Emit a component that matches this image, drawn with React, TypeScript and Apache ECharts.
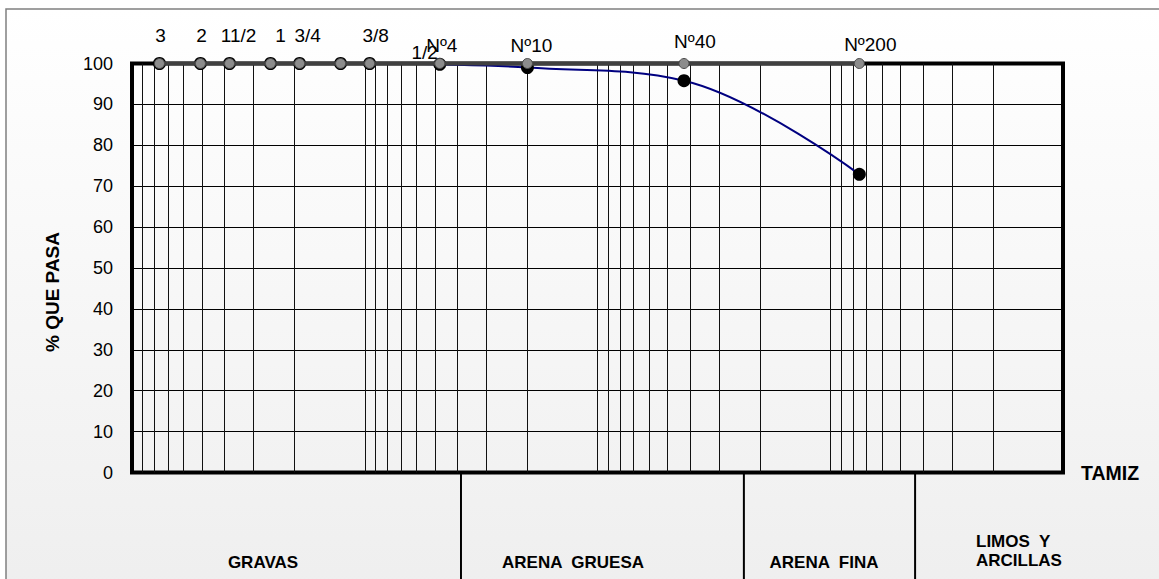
import React, { useEffect, useRef } from "react";
import * as echarts from "echarts";

// ---- data ----
const sieveNames = ["3", "2", "11/2", "1", "3/4", "1/2", "3/8", "Nº4", "Nº10", "Nº40", "Nº200"];
const sieveSizesMm = [76.2, 50.8, 38.1, 25.4, 19.05, 12.7, 9.525, 4.76, 2.0, 0.425, 0.075];
const limitPassing = [100, 100, 100, 100, 100, 100, 100, 100, 100, 100, 100];
const samplePassing = [100, 100, 100, 100, 100, 100, 100, 99.8, 99.0, 95.8, 72.9];
const labelOffsets = [
  [1, -8], [1, -8], [9, -8], [10, -8], [8, -8], [84, 9], [6, -8], [2, 2], [4, 2], [11, -2], [11, 1],
];
const xMinMm = 0.01;
const xMaxMm = 100;
const yMin = 0;
const yMax = 100;
const yInterval = 10;
const classNames = ["GRAVAS", "ARENA  GRUESA", "ARENA  FINA", "LIMOS  Y\nARCILLAS"];
const classBoundariesMm = [3.86, 0.235, 0.0432];
const yTitle = "% QUE PASA";
const xTitle = "TAMIZ";

const FONT = '"Liberation Sans", Arial, Helvetica, sans-serif';

export default function App() {
  const ref = useRef<HTMLDivElement>(null);

  useEffect(() => {
    if (!ref.current) return;
    const chart = echarts.init(ref.current, null, { renderer: "svg" });

    const minorLines: number[] = [];
    for (let e = -2; e < 2; e++) {
      for (let n = 1; n <= 9; n++) {
        const v = n * Math.pow(10, e);
        if (v > xMinMm * 1.0001 && v < xMaxMm * 0.9999) minorLines.push(v);
      }
    }

    const option: any = {
      animation: false,
      grid: {
        left: 132,
        right: 96,
        top: 63.5,
        bottom: 106.5,
        show: true,
        borderColor: "#000",
        borderWidth: 4,
        backgroundColor: "transparent",
      },
      xAxis: {
        type: "log",
        logBase: 10,
        min: xMinMm,
        max: xMaxMm,
        inverse: true,
        axisLine: { show: false },
        axisTick: { show: false },
        axisLabel: { show: false },
        splitLine: { show: false },
      },
      yAxis: {
        type: "value",
        min: yMin,
        max: yMax,
        interval: yInterval,
        axisLine: { show: false },
        axisTick: { show: false },
        axisLabel: { margin: 19, fontSize: 18, color: "#000", fontFamily: FONT },
        splitLine: { show: true, lineStyle: { color: "#000", width: 1 } },
      },
      series: [
        {
          name: "Muestra",
          type: "line",
          z: 3,
          smooth: 0.38,
          clip: false,
          symbol: "circle",
          symbolSize: 13,
          itemStyle: { color: "#000" },
          lineStyle: { color: "#000080", width: 2 },
          emphasis: { disabled: true },
          data: sieveSizesMm.map((s, i) => [s, samplePassing[i]]),
          markLine: {
            silent: true,
            z: 1,
            symbol: "none",
            label: { show: false },
            emphasis: { disabled: true },
            lineStyle: { color: "#111", width: 1, type: "solid" },
            data: minorLines.map((v) => ({ xAxis: v })),
          },
        },
        {
          name: "Tamices",
          type: "line",
          z: 4,
          clip: false,
          symbol: "circle",
          symbolSize: 10,
          itemStyle: { color: "#8c8c8c", borderColor: "#4a4a4a", borderWidth: 1 },
          lineStyle: { color: "#404040", width: 4 },
          emphasis: { disabled: true },
          label: {
            show: true,
            position: "top",
            distance: 5,
            fontSize: 19,
            color: "#000",
            fontFamily: FONT,
            formatter: (p: any) => sieveNames[p.dataIndex],
          },
          data: sieveSizesMm.map((s, i) => ({
            value: [s, limitPassing[i]],
            label: { offset: labelOffsets[i] },
          })),
        },
      ],
    };

    chart.setOption(option);

    const yBottom = (chart.convertToPixel({ gridIndex: 0 } as any, [1, yMin]) as number[])[1];
    const yTop = (chart.convertToPixel({ gridIndex: 0 } as any, [1, yMax]) as number[])[1];
    const bx = classBoundariesMm.map(
      (v) => (chart.convertToPixel({ gridIndex: 0 } as any, [v, yMin]) as number[])[0]
    );

    const graphic: any[] = [
      {
        type: "rect",
        z: -100,
        silent: true,
        shape: { x: 6, y: 9, width: 1300, height: 600 },
        style: {
          fill: new echarts.graphic.LinearGradient(0, 0, 0, 1, [
            { offset: 0, color: "#ffffff" },
            { offset: 1, color: "#eeeeee" },
          ]),
          stroke: "#808080",
          lineWidth: 1.5,
        },
      },
      ...bx.map((x) => ({
        type: "line",
        z: 10,
        silent: true,
        shape: { x1: x, y1: yBottom, x2: x, y2: 600 },
        style: { stroke: "#000", lineWidth: 2 },
      })),
      {
        type: "text",
        z: 10,
        x: 263,
        y: 562,
        style: { text: classNames[0], font: `bold 17px ${FONT}`, fill: "#000", align: "center", verticalAlign: "middle" },
      },
      {
        type: "text",
        z: 10,
        x: 573,
        y: 562,
        style: { text: classNames[1], font: `bold 17px ${FONT}`, fill: "#000", align: "center", verticalAlign: "middle" },
      },
      {
        type: "text",
        z: 10,
        x: 824,
        y: 562,
        style: { text: classNames[2], font: `bold 17px ${FONT}`, fill: "#000", align: "center", verticalAlign: "middle" },
      },
      {
        type: "text",
        z: 10,
        x: 976,
        y: 551,
        style: {
          text: classNames[3],
          font: `bold 17px ${FONT}`,
          lineHeight: 19,
          fill: "#000",
          align: "left",
          verticalAlign: "middle",
        },
      },
      {
        type: "text",
        z: 10,
        x: 1110,
        y: yBottom + 0.5,
        style: { text: xTitle, font: `bold 19.5px ${FONT}`, fill: "#000", align: "center", verticalAlign: "middle" },
      },
      {
        type: "text",
        z: 10,
        x: 52,
        y: (yTop + yBottom) / 2 + 24,
        rotation: Math.PI / 2,
        style: { text: yTitle, font: `bold 19px ${FONT}`, fill: "#000", align: "center", verticalAlign: "middle" },
      },
    ];

    chart.setOption({ graphic });

    return () => {
      chart.dispose();
    };
  }, []);

  return (
    <div
      ref={ref}
      style={{ position: "absolute", left: 0, top: 0, width: 1159, height: 579, background: "#fff" }}
    />
  );
}
